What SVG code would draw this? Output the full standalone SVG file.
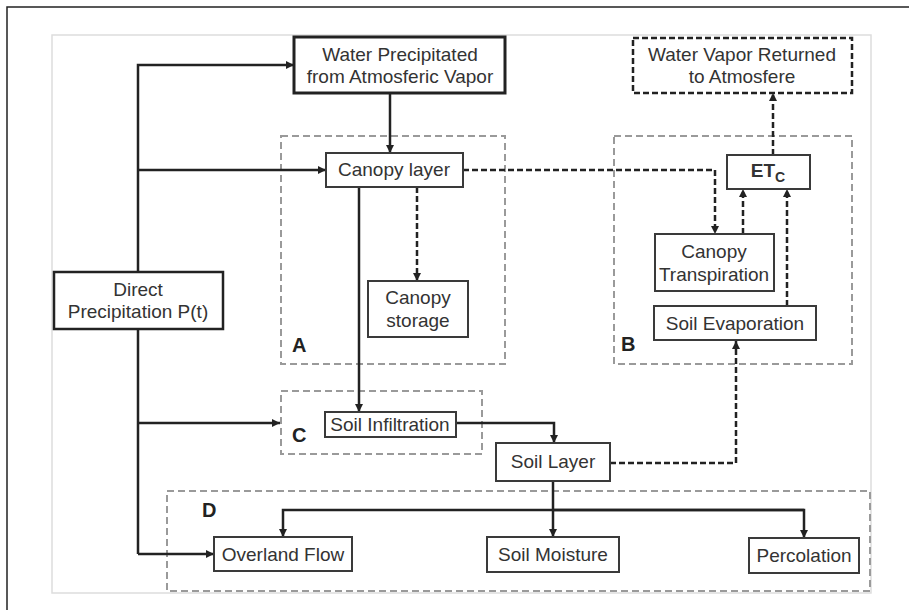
<svg xmlns="http://www.w3.org/2000/svg" width="909" height="610" viewBox="0 0 909 610">
<defs>
<style>
text{font-family:"Liberation Sans",Arial,sans-serif;font-size:19px;fill:#333;text-anchor:middle}
.lbl{font-weight:bold;font-size:20px;text-anchor:start;fill:#222}
.box{fill:#fff;stroke:#3a3a3a;stroke-width:2}
.grp{fill:none;stroke:#9a9a9a;stroke-width:2;stroke-dasharray:7 4}
.c{fill:none;stroke:#222;stroke-width:2.5}
.d{fill:none;stroke:#222;stroke-width:2.5;stroke-dasharray:6 3}
</style>
<marker id="ah" markerWidth="9" markerHeight="9" refX="8" refY="4" orient="auto" markerUnits="userSpaceOnUse">
<path d="M0,0 L8,4 L0,8 z" fill="#222"/>
</marker>
</defs>
<rect width="909" height="610" fill="#fff"/>
<path d="M7,610 V7 H909" fill="none" stroke="#222" stroke-width="1.5"/>
<rect x="52" y="35" width="819" height="558" fill="none" stroke="#ddd" stroke-width="1.5"/>

<g id="groupA"><rect class="grp" x="281" y="136" width="224" height="228"/><text class="lbl" x="292" y="352">A</text></g>
<g id="groupB"><rect class="grp" x="614" y="136" width="238" height="228"/><text class="lbl" x="621" y="351">B</text></g>
<g id="groupC"><rect class="grp" x="281" y="391" width="201" height="63"/><text class="lbl" x="292" y="442">C</text></g>
<g id="groupD"><rect class="grp" x="167" y="491" width="703" height="100"/><text class="lbl" x="202" y="517">D</text></g>

<g id="connectors">
<path class="c" d="M138,554 V65 H294" marker-end="url(#ah)"/>
<path class="c" d="M138,170 H326" marker-end="url(#ah)"/>
<path class="c" d="M138,423 H280" marker-end="url(#ah)"/>
<path class="c" d="M138,554 H214" marker-end="url(#ah)"/>
<path class="c" d="M390,93 V153" marker-end="url(#ah)"/>
<path class="c" d="M359,187 V412" marker-end="url(#ah)"/>
<path class="c" d="M456,423 H554 V443" marker-end="url(#ah)"/>
<path class="c" d="M553,481 V537" marker-end="url(#ah)"/>
<path class="c" d="M804,510 H283 V537" marker-end="url(#ah)"/>
<path class="c" d="M553,510 H804 V538" marker-end="url(#ah)"/>
<path class="d" d="M463,170 H715 V234" marker-end="url(#ah)"/>
<path class="d" d="M417,187 V281" marker-end="url(#ah)"/>
<path class="d" d="M743,234 V189" marker-end="url(#ah)"/>
<path class="d" d="M787,306 V189" marker-end="url(#ah)"/>
<path class="d" d="M773,155 V93" marker-end="url(#ah)"/>
<path class="d" d="M610,463 H736 V341" marker-end="url(#ah)"/>
</g>

<g id="waterPrecipitated"><rect class="box" x="294" y="37" width="211" height="56" style="stroke-width:3;stroke:#222"/><text x="400" y="61">Water Precipitated</text><text x="400" y="83">from Atmosferic Vapor</text></g>
<g id="waterVapor"><rect x="633" y="38" width="219" height="55" fill="#fff" stroke="#222" stroke-width="2.5" stroke-dasharray="6 3"/><text x="742" y="61">Water Vapor Returned</text><text x="742" y="83">to Atmosfere</text></g>
<g id="canopyLayer"><rect class="box" x="326" y="153" width="137" height="34"/><text x="394" y="176">Canopy layer</text></g>
<g id="canopyStorage"><rect class="box" x="368" y="281" width="100" height="56"/><text x="418" y="304">Canopy</text><text x="418" y="327">storage</text></g>
<g id="directPrecipitation"><rect class="box" x="54" y="272" width="169" height="57" style="stroke-width:2.5;stroke:#222"/><text x="138" y="296">Direct</text><text x="138" y="318">Precipitation P(t)</text></g>
<g id="etc"><rect class="box" x="727" y="155" width="83" height="34"/><text x="768" y="177" style="font-weight:bold"><tspan>ET</tspan><tspan dy="5" style="font-size:14px">C</tspan></text></g>
<g id="canopyTranspiration"><rect class="box" x="655" y="234" width="119" height="57"/><text x="714" y="258">Canopy</text><text x="714" y="281">Transpiration</text></g>
<g id="soilEvaporation"><rect class="box" x="654" y="306" width="162" height="34"/><text x="735" y="330">Soil Evaporation</text></g>
<g id="soilInfiltration"><rect class="box" x="325" y="412" width="131" height="25"/><text x="390" y="431">Soil Infiltration</text></g>
<g id="soilLayer"><rect class="box" x="496" y="443" width="114" height="38"/><text x="553" y="468">Soil Layer</text></g>
<g id="overlandFlow"><rect class="box" x="214" y="537" width="138" height="34"/><text x="283" y="561">Overland Flow</text></g>
<g id="soilMoisture"><rect class="box" x="487" y="537" width="132" height="35"/><text x="553" y="561">Soil Moisture</text></g>
<g id="percolation"><rect class="box" x="749" y="538" width="110" height="35"/><text x="804" y="562">Percolation</text></g>
</svg>
